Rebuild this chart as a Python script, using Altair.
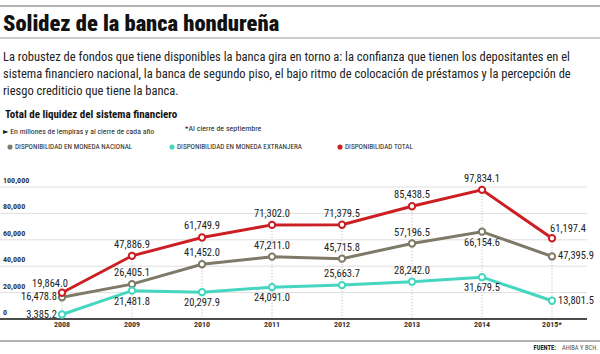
import altair as alt
import pandas as pd

years = [2008, 2009, 2010, 2011, 2012, 2013, 2014, 2015]
year_labels = ["2008", "2009", "2010", "2011", "2012", "2013", "2014", "2015*"]
nacional = [16478.8, 26405.1, 41452.0, 47211.0, 45715.8, 57196.5, 66154.6, 47395.9]
extranjera = [3385.2, 21481.8, 20297.9, 24091.0, 25663.7, 28242.0, 31679.5, 13801.5]
total = [19864.0, 47886.9, 61749.9, 71302.0, 71379.5, 85438.5, 97834.1, 61197.4]
y_ticks = [0, 20000, 40000, 60000, 80000, 100000]

series_names = ["DISPONIBILIDAD EN MONEDA NACIONAL", "DISPONIBILIDAD EN MONEDA EXTRANJERA", "DISPONIBILIDAD TOTAL"]
series_colors = ["#7d7a68", "#45d6c0", "#cc1f24"]

# label placement per point (style, not data)
place_nac = ["left", "above", "above", "above", "above", "above", "below", "right"]
place_ext = ["left", "below", "below", "below", "above", "above", "below", "right"]
place_tot = ["aboveleft", "above", "above", "above", "above", "above", "above", "aboveright"]

FONT = "'Noto Sans Condensed', 'Roboto Condensed', 'Open Sans Condensed', 'DejaVu Sans Condensed', sans-serif"
W, H = 600, 354

rows = []
for name, vals, places in zip(series_names, [nacional, extranjera, total], [place_nac, place_ext, place_tot]):
    for y, lab, v, p in zip(years, year_labels, vals, places):
        rows.append({"year": y, "ylab": lab, "series": name, "value": v,
                     "label": f"{v:,.1f}", "place": p})
df = pd.DataFrame(rows)
df_tot = pd.DataFrame({"year": years, "total": total, "ylab": year_labels})
df_ticks = pd.DataFrame({"v": y_ticks, "lab": [f"{t:,}" for t in y_ticks]})

# scales: 2008 -> x=62, 70px/yr ; 0 -> y=319, 100000 -> y=187
x0 = 2008 - 62 / 70
xs = alt.Scale(domain=[x0, x0 + W / 70], range=[0, W], nice=False, zero=False)
per_px = 100000 / 132
d0 = -(H - 319) * per_px
ys = alt.Scale(domain=[d0, d0 + H * per_px], range=[H, 0], nice=False, zero=False)
X = alt.X("year:Q", scale=xs, axis=None)
col = alt.Color("series:N", scale=alt.Scale(domain=series_names, range=series_colors), legend=None)

one = alt.Data(values=[{}])


def txt(text, x, y, size, weight="normal", color="#222", align="left", font=FONT):
    return alt.Chart(one).mark_text(text=text, align=align, baseline="middle", fontSize=size,
                                    fontWeight=weight, color=color, font=font).encode(
        x=alt.value(x), y=alt.value(y))


def hline(y, x1, x2, color, w):
    return alt.Chart(one).mark_rule(color=color, strokeWidth=w).encode(
        x=alt.value(x1), x2=alt.value(x2), y=alt.value(y))


layers = [
    hline(6, 0, W, "#9a9a9a", 1.5),
    txt("Solidez de la banca hondureña", 3, 24, 22.5, 900, "#111"),
    hline(38, 0, W, "#9a9a9a", 1.2),
    txt("La robustez de fondos que tiene disponibles la banca gira en torno a: la confianza que tienen los depositantes en el", 3, 57, 12.5),
    txt("sistema financiero nacional, la banca de segundo piso, el bajo ritmo de colocación de préstamos y la percepción de", 3, 74, 12.5),
    txt("riesgo crediticio que tiene la banca.", 3, 91, 12.5),
    txt("Total de liquidez del sistema financiero", 5, 115, 11, "bold", "#111"),
    txt("► En millones de lempiras y al cierre de cada año", 3, 132, 7.8, "normal", "#222"),
    txt("*Al cierre de septiembre", 185, 129, 8, "normal", "#222"),
    hline(341, 0, W, "#9a9a9a", 1.5),
    txt("AHIBA Y BCH.", 598, 348, 6.5, "normal", "#555", align="right"),
    txt("FUENTE:", 556, 348, 6.5, "bold", "#222", align="right"),
]

# legend
leg_x = [10, 172, 340]
for name, c, lx in zip(series_names, series_colors, leg_x):
    layers.append(alt.Chart(one).mark_circle(color=c, size=26, opacity=1).encode(
        x=alt.value(lx), y=alt.value(147)))
    layers.append(txt(name, lx + 5, 147, 7.2, "normal", "#222"))

# gridlines and y labels
layers.append(alt.Chart(df_ticks).transform_filter("datum.v > 0").mark_rule(color="#dedede", strokeWidth=1).encode(
    y=alt.Y("v:Q", scale=ys, axis=None), x=alt.value(0), x2=alt.value(587)))
layers.append(alt.Chart(df_ticks).mark_text(align="left", baseline="middle", dy=-6, fontSize=8, fontWeight="bold",
                                            color="#333", font=FONT).encode(
    y=alt.Y("v:Q", scale=ys, axis=None), x=alt.value(3), text="lab:N"))

# vertical dotted guides
layers.append(alt.Chart(df_tot).mark_rule(color="#b5b5b5", strokeWidth=1, strokeDash=[1, 2]).encode(
    x=X, y=alt.Y("total:Q", scale=ys, axis=None), y2=alt.datum(0)))

# x axis line
layers.append(alt.Chart(one).mark_rule(color="#111", strokeWidth=1.6).encode(
    y=alt.Y("z:Q", scale=ys, axis=None), x=alt.value(0), x2=alt.value(587)).transform_calculate(z="0"))

# x labels
layers.append(alt.Chart(df_tot).mark_text(baseline="middle", fontSize=8, fontWeight="bold", color="#333",
                                          font=FONT).encode(x=X, y=alt.value(325), text="ylab:N"))

# lines and points
base = alt.Chart(df).encode(x=X, y=alt.Y("value:Q", scale=ys, axis=None), color=col,
                            detail="series:N")
layers.append(base.mark_line(strokeWidth=3))
layers.append(base.mark_point(filled=True, fill="white", size=40, strokeWidth=2, opacity=1).encode(
    stroke=col))

# value labels
offsets = {
    "above": dict(align="center", dx=0, dy=-11),
    "below": dict(align="center", dx=0, dy=11),
    "left": dict(align="right", dx=-5, dy=0),
    "right": dict(align="left", dx=6, dy=0),
    "aboveleft": dict(align="center", dx=-12, dy=-9),
    "aboveright": dict(align="center", dx=16, dy=-9),
}
for p, o in offsets.items():
    layers.append(alt.Chart(df).transform_filter(alt.datum.place == p).mark_text(
        baseline="middle", fontSize=10.5, color="#222", font=FONT, **o).encode(
        x=X, y=alt.Y("value:Q", scale=ys, axis=None), text="label:N"))

chart = alt.layer(*layers).properties(
    width=W, height=H, padding=0, autosize=alt.AutoSizeParams(type="none"),
    background="white",
).configure_view(stroke=None)

chart.save("out.html", embed_options={"renderer": "svg", "actions": False})
